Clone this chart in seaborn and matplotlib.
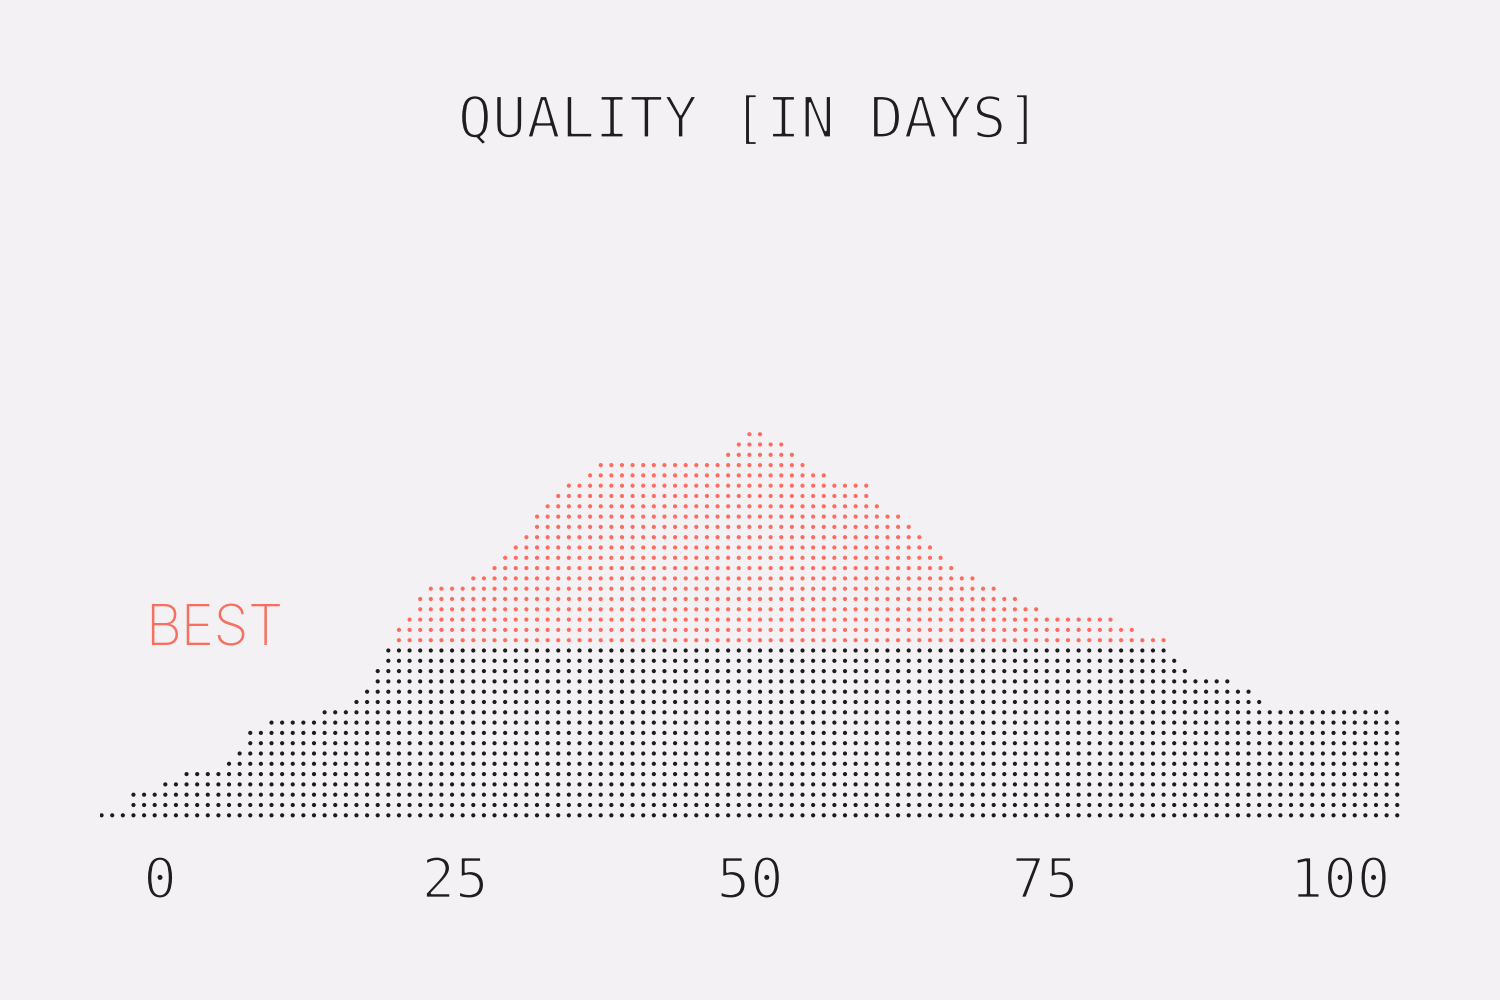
import matplotlib
matplotlib.use("Agg")
import matplotlib.pyplot as plt
import matplotlib.patheffects as pe
import numpy as np
import pandas as pd
import seaborn as sns

# column heights (number of dots), read left to right
heights = [1, 1, 1, 3, 3, 3, 4, 4, 5, 5, 5, 5, 6, 7, 9, 9,
           10, 10, 10, 10, 10, 11, 11, 11, 12, 13, 15, 17, 19, 20, 22,
           23, 23, 23, 23, 24, 24, 25, 26, 27, 28, 30, 31, 32, 33, 33, 34,
           35, 35, 35, 35, 35, 35, 35, 35, 35, 35, 35, 35,
           36, 37, 38, 38, 37, 37, 36, 35, 34, 34, 33, 33, 33, 33,
           31, 30, 30, 29, 28, 27, 26, 25, 24, 24, 23, 23, 22, 22, 21, 21,
           20, 20, 20, 20, 20, 20, 20, 19, 19, 18, 18, 18,
           16, 15, 14, 14, 14, 14, 13, 13, 12,
           11, 11, 11, 11, 11, 11, 11, 11, 11, 11, 11, 11, 10]
best_level = 17          # rows from this level up are "best"
x_start = -4.95          # value of the first column
x_step = 0.9             # days per column
ticks = [0, 25, 50, 75, 100]

bg = "#f3f1f3"
red = "#ff6b5e"
black = "#1c1c1c"
ink = "#1e1e1e"

cols, rows = [], []
for i, h in enumerate(heights):
    for r in range(h):
        cols.append(x_start + i * x_step)
        rows.append(r)
df = pd.DataFrame({"day": cols, "level": rows})
df["group"] = np.where(df["level"] >= best_level, "best", "rest")

sns.set_theme(style="white")
plt.rcParams["font.family"] = ["DejaVu Sans Mono", "DejaVu Sans"]

# thin the mono glyphs a bit by eating their outline with the background
thin = [pe.Normal(), pe.Stroke(linewidth=1.6, foreground=bg)]

fig = plt.figure(figsize=(15, 10), dpi=100, facecolor=bg)
ax = fig.add_axes([100 / 1500, 0.16925, 1300 / 1500, 0.4326])
ax.set_facecolor(bg)

sns.scatterplot(data=df, x="day", y="level", hue="group",
                palette={"rest": black, "best": red},
                s=9, linewidth=0, legend=False, ax=ax)

ax.set_xlim((100 - 160) / 11.8, (1400 - 160) / 11.8)
ax.set_ylim(-1.5, 40.5)
ax.set_xticks(ticks)
ax.set_xticklabels([str(t) for t in ticks], fontsize=40, color=ink)
for lab in ax.get_xticklabels():
    lab.set_path_effects(thin)
ax.tick_params(axis="x", length=0, pad=18)
ax.set_yticks([])
ax.set_xlabel("")
ax.set_ylabel("")
sns.despine(ax=ax, left=True, bottom=True)

fig.text(0.5, 0.878, "QUALITY [IN DAYS]", ha="center", va="center",
         fontsize=41, color=ink, path_effects=thin)
fig.text(145 / 1500, 1 - 645 / 1000, "BEST", ha="left", va="baseline",
         fontsize=40, color="#f7705f", family=["Inter", "DejaVu Sans"],
         fontweight="light")

fig.savefig("out.png", dpi=100, facecolor=bg)
